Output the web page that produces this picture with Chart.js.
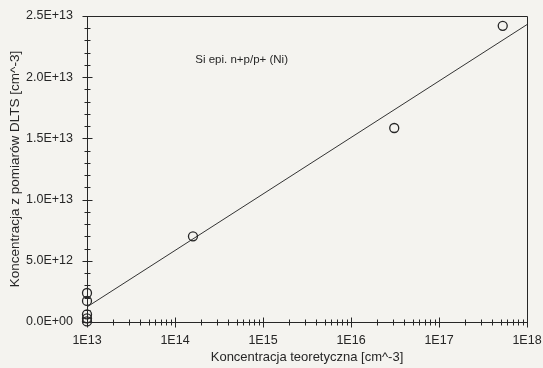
<!DOCTYPE html>
<html>
<head>
<meta charset="utf-8">
<script src="https://cdn.jsdelivr.net/npm/chart.js@4/dist/chart.umd.min.js"></script>
<style>
  html, body { margin: 0; padding: 0; background: #f4f3ef; }
  #wrap { width: 543px; height: 368px; }
</style>
</head>
<body>
<div id="wrap"><canvas id="chart" width="543" height="368"></canvas></div>
<script>
// measured points (theoretical vs DLTS concentration)
const theoretical = [1e13, 1e13, 1e13, 1e13, 1e13, 1.6e14, 3.1e16, 5.3e17];
const dlts = [2.37e12, 1.72e12, 0.62e12, 0.3e12, 0.05e12, 7.0e12, 1.585e13, 2.42e13];

// fitted line end points
const fitX = [1e13, 1e18];
const fitY = [1.23e12, 2.43e13];

const xDecades = [1e13, 1e14, 1e15, 1e16, 1e17, 1e18];
const yTicks = [0, 5e12, 1e13, 1.5e13, 2e13, 2.5e13];
const yMinorStep = 1e12;

const noteText = "Si epi. n+p/p+ (Ni)";

const ink = "#262626";
const font = "'Liberation Sans', Arial, sans-serif";

function fmtY(v) {
  if (v === 0) return "0.0E+00";
  const e = Math.floor(Math.log10(v) + 1e-9);
  const m = v / Math.pow(10, e);
  return m.toFixed(1) + "E+" + String(e).padStart(2, "0");
}

// frame, cross ticks and the note
const axesPlugin = {
  id: "axesPlugin",
  beforeDraw(chart) {
    const c = chart.ctx;
    c.save();
    c.fillStyle = "#f4f3ef";
    c.fillRect(0, 0, chart.width, chart.height);
    c.restore();
  },
  afterDatasetsDraw(chart) {
    const c = chart.ctx;
    const a = chart.chartArea;
    const xs = chart.scales.x;
    const ys = chart.scales.y;
    c.save();
    c.strokeStyle = ink;
    c.lineWidth = 1;
    c.beginPath();
    c.rect(Math.round(a.left) + 0.5, Math.round(a.top) + 0.5,
      Math.round(a.right - a.left), Math.round(a.bottom - a.top));
    c.stroke();

    // x ticks: decades long, 2..9 short
    const yb = Math.round(a.bottom) + 0.5;
    c.beginPath();
    for (let i = 0; i < xDecades.length; i++) {
      const d = xDecades[i];
      const px = Math.round(xs.getPixelForValue(d)) + 0.5;
      c.moveTo(px, yb - 5); c.lineTo(px, yb + 5);
      if (i < xDecades.length - 1) {
        for (let k = 2; k <= 9; k++) {
          const p = Math.round(xs.getPixelForValue(k * d)) + 0.5;
          c.moveTo(p, yb - 3); c.lineTo(p, yb + 3);
        }
      }
    }
    // y ticks
    const xl = Math.round(a.left) + 0.5;
    for (let v = 0; v <= ys.max + 1; v += yMinorStep) {
      const py = Math.round(ys.getPixelForValue(v)) + 0.5;
      const major = yTicks.some(t => Math.abs(t - v) < 1);
      const len = major ? 5 : 3;
      c.moveTo(xl - len, py); c.lineTo(xl + len, py);
    }
    c.stroke();

    c.fillStyle = ink;
    c.font = "11.5px " + font;
    c.textBaseline = "middle";
    c.fillText(noteText, xs.getPixelForValue(1.7e14), ys.getPixelForValue(2.14e13));
    c.restore();
  }
};

new Chart(document.getElementById("chart"), {
  type: "scatter",
  data: {
    datasets: [
      {
        label: "DLTS",
        data: theoretical.map((x, i) => ({ x: x, y: dlts[i] })),
        pointStyle: "circle",
        pointRadius: 4.5,
        pointBorderWidth: 1.3,
        pointBorderColor: ink,
        pointBackgroundColor: "rgba(0,0,0,0)",
        showLine: false,
        clip: false
      },
      {
        label: "fit",
        data: fitX.map((x, i) => ({ x: x, y: fitY[i] })),
        showLine: true,
        borderColor: "#333",
        borderWidth: 1,
        pointRadius: 0
      }
    ]
  },
  options: {
    responsive: false,
    animation: false,
    devicePixelRatio: 1,
    layout: { padding: { top: 16, right: 16, left: 0, bottom: 0 } },
    plugins: { legend: { display: false }, tooltip: { enabled: false } },
    scales: {
      x: {
        type: "logarithmic",
        min: 1e13,
        max: 1e18,
        afterBuildTicks: s => { s.ticks = xDecades.map(v => ({ value: v })); },
        afterFit: s => { s.height = 46; s.paddingLeft = 0; s.paddingRight = 0; },
        grid: { display: false, drawTicks: false },
        border: { display: false },
        ticks: {
          color: ink,
          font: { family: font, size: 12.5 },
          padding: 11,
          maxRotation: 0,
          autoSkip: false,
          callback: v => "1E" + Math.round(Math.log10(v))
        },
        title: {
          display: true,
          text: "Koncentracja teoretyczna [cm^-3]",
          color: ink,
          font: { family: font, size: 13 },
          padding: { top: 0, bottom: 3 }
        }
      },
      y: {
        min: 0,
        max: 2.5e13,
        afterBuildTicks: s => { s.ticks = yTicks.map(v => ({ value: v })); },
        afterFit: s => { s.width = 87; s.paddingTop = 0; s.paddingBottom = 0; },
        grid: { display: false, drawTicks: false },
        border: { display: false },
        ticks: {
          color: ink,
          font: { family: font, size: 12.5 },
          padding: 14,
          callback: v => fmtY(v)
        },
        title: {
          display: true,
          text: "Koncentracja z pomiarów DLTS [cm^-3]",
          color: ink,
          font: { family: font, size: 13.5 },
          padding: { top: 7, bottom: 0 }
        }
      }
    }
  },
  plugins: [axesPlugin]
});
</script>
</body>
</html>
